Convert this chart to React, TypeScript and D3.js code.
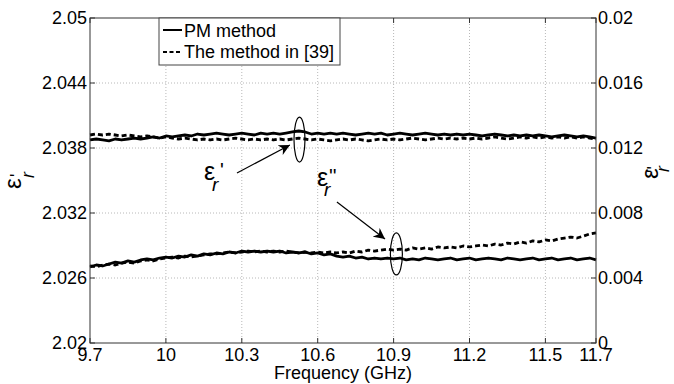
import React from 'react';
import * as d3 from 'd3';

// frequency grid (GHz), 81 samples from 9.7 to 11.7
const freq = d3.range(81).map(i => +(9.7 + i * 0.025).toFixed(3));

// real permittivity, PM method (solid)
const epsRealPM = [
  2.03874, 2.03883, 2.03874, 2.03865, 2.03883, 2.03874, 2.03883, 2.03892, 2.03883,
  2.03892, 2.03902, 2.03892, 2.03911, 2.03902, 2.03911, 2.03920, 2.03911, 2.03929, 2.03920, 2.03929,
  2.03938, 2.03929, 2.03920, 2.03929, 2.03938, 2.03929, 2.03920, 2.03938, 2.03929, 2.03938,
  2.03929, 2.03938, 2.03948, 2.03957, 2.03948, 2.03929, 2.03938, 2.03929, 2.03938, 2.03929,
  2.03938, 2.03929, 2.03920, 2.03929, 2.03938, 2.03929, 2.03938, 2.03920, 2.03929, 2.03938,
  2.03929, 2.03920, 2.03929, 2.03938, 2.03929, 2.03920, 2.03929, 2.03920, 2.03929, 2.03920,
  2.03929, 2.03920, 2.03911, 2.03920, 2.03929, 2.03920, 2.03911, 2.03920, 2.03911, 2.03920,
  2.03911, 2.03920, 2.03911, 2.03902, 2.03911, 2.03920, 2.03911, 2.03902, 2.03911, 2.03902, 2.03892,
];

// real permittivity, method in [39] (dashed)
const epsReal39 = [
  2.03920, 2.03929, 2.03920, 2.03929, 2.03920, 2.03911, 2.03920, 2.03911, 2.03902,
  2.03911, 2.03902, 2.03892, 2.03902, 2.03892, 2.03883, 2.03892, 2.03883, 2.03874, 2.03883, 2.03874,
  2.03883, 2.03874, 2.03883, 2.03892, 2.03883, 2.03874, 2.03883, 2.03874, 2.03883, 2.03874,
  2.03883, 2.03874, 2.03883, 2.03892, 2.03883, 2.03874, 2.03883, 2.03874, 2.03865, 2.03874,
  2.03883, 2.03874, 2.03883, 2.03874, 2.03865, 2.03874, 2.03883, 2.03874, 2.03883, 2.03874,
  2.03883, 2.03892, 2.03883, 2.03874, 2.03883, 2.03892, 2.03883, 2.03892, 2.03883, 2.03892,
  2.03883, 2.03892, 2.03883, 2.03892, 2.03902, 2.03892, 2.03883, 2.03892, 2.03902, 2.03892,
  2.03902, 2.03892, 2.03902, 2.03892, 2.03902, 2.03892, 2.03902, 2.03892, 2.03902, 2.03892, 2.03883,
];

// imaginary permittivity, PM method (solid)
const epsImagPM = [
  0.00468, 0.00480, 0.00474, 0.00486, 0.00498, 0.00492, 0.00505, 0.00498, 0.00511,
  0.00517, 0.00511, 0.00523, 0.00529, 0.00523, 0.00535, 0.00529, 0.00542, 0.00535, 0.00548, 0.00542,
  0.00554, 0.00548, 0.00560, 0.00554, 0.00566, 0.00560, 0.00566, 0.00560, 0.00566, 0.00560,
  0.00566, 0.00554, 0.00560, 0.00554, 0.00560, 0.00548, 0.00554, 0.00542, 0.00548, 0.00535,
  0.00529, 0.00535, 0.00523, 0.00529, 0.00517, 0.00523, 0.00517, 0.00523, 0.00517, 0.00523,
  0.00511, 0.00517, 0.00511, 0.00523, 0.00517, 0.00511, 0.00517, 0.00523, 0.00511, 0.00517,
  0.00523, 0.00511, 0.00517, 0.00523, 0.00517, 0.00511, 0.00523, 0.00517, 0.00511, 0.00517,
  0.00523, 0.00511, 0.00517, 0.00523, 0.00511, 0.00517, 0.00523, 0.00511, 0.00517, 0.00523, 0.00511,
];

// imaginary permittivity, method in [39] (dashed)
const epsImag39 = [
  0.00474, 0.00468, 0.00480, 0.00486, 0.00480, 0.00492, 0.00498, 0.00492, 0.00505,
  0.00511, 0.00505, 0.00517, 0.00523, 0.00529, 0.00523, 0.00535, 0.00529, 0.00535, 0.00542, 0.00548,
  0.00548, 0.00554, 0.00560, 0.00554, 0.00560, 0.00566, 0.00560, 0.00566, 0.00560, 0.00566,
  0.00560, 0.00566, 0.00560, 0.00554, 0.00560, 0.00554, 0.00560, 0.00554, 0.00560, 0.00554,
  0.00560, 0.00554, 0.00566, 0.00560, 0.00572, 0.00566, 0.00572, 0.00578, 0.00572, 0.00578,
  0.00572, 0.00585, 0.00578, 0.00585, 0.00578, 0.00591, 0.00585, 0.00591, 0.00585, 0.00597,
  0.00591, 0.00597, 0.00603, 0.00597, 0.00609, 0.00603, 0.00615, 0.00609, 0.00622, 0.00615,
  0.00628, 0.00622, 0.00634, 0.00628, 0.00640, 0.00646, 0.00652, 0.00646, 0.00658, 0.00671, 0.00677,
];

const xTicks = [9.7, 10, 10.3, 10.6, 10.9, 11.2, 11.5, 11.7];
const xTickLabels = ['9.7', '10', '10.3', '10.6', '10.9', '11.2', '11.5', '11.7'];
const leftTicks = [2.02, 2.026, 2.032, 2.038, 2.044, 2.05];
const leftTickLabels = ['2.02', '2.026', '2.032', '2.038', '2.044', '2.05'];
const rightTicks = [0, 0.004, 0.008, 0.012, 0.016, 0.02];
const rightTickLabels = ['0', '0.004', '0.008', '0.012', '0.016', '0.02'];
const legendLabels = ['PM method', 'The method in [39]'];

const W = 674;
const H = 384;
const margin = { top: 18, right: 78, bottom: 41, left: 90 };
const FONT = '"Liberation Sans", Arial, sans-serif';

const App = () => {
  const x = d3.scaleLinear().domain([9.7, 11.7]).range([margin.left, W - margin.right]);
  const yL = d3.scaleLinear().domain([2.02, 2.05]).range([H - margin.bottom, margin.top]);
  const yR = d3.scaleLinear().domain([0, 0.02]).range([H - margin.bottom, margin.top]);

  const lineL = d3.line<number>().x((_, i) => x(freq[i])).y(d => yL(d));
  const lineR = d3.line<number>().x((_, i) => x(freq[i])).y(d => yR(d));

  const x0 = x.range()[0], x1 = x.range()[1];
  const y0 = yL.range()[0], y1 = yL.range()[1];

  const curve = { fill: 'none', stroke: '#000', strokeWidth: 2.8, strokeLinejoin: 'round' as const };

  // annotation arrows (tail -> tip)
  const a1 = { fx0: 10.281, v0: 2.03569, fx1: 10.49, v1: 2.03828 };
  const a2 = { fx0: 10.676, v0: 0.00868, fx1: 10.866, v1: 0.0064 };

  return (
    <svg width={W} height={H} style={{ position: 'absolute', left: 0, top: 0, background: '#fff' }}
      fontFamily={FONT}>
      <defs>
        <marker id="arr" viewBox="0 0 10 10" refX="10" refY="5" markerWidth="11" markerHeight="11"
          markerUnits="userSpaceOnUse" orient="auto">
          <path d="M0,0 L10,5 L0,10 L3,5 z" fill="#000" />
        </marker>
      </defs>
      <rect x={0} y={0} width={W} height={H} fill="#fff" />

      {/* grid */}
      {xTicks.slice(1, -1).map(t => (
        <line key={'gx' + t} x1={x(t)} x2={x(t)} y1={y0} y2={y1} stroke="#b8b8b8" strokeWidth={1} strokeDasharray="1,2" />
      ))}
      {leftTicks.slice(1, -1).map(t => (
        <line key={'gy' + t} x1={x0} x2={x1} y1={yL(t)} y2={yL(t)} stroke="#b8b8b8" strokeWidth={1} strokeDasharray="1,2" />
      ))}

      {/* curves */}
      <path d={lineL(epsRealPM) || ''} {...curve} />
      <path d={lineL(epsReal39) || ''} {...curve} strokeDasharray="5,3" />
      <path d={lineR(epsImagPM) || ''} {...curve} />
      <path d={lineR(epsImag39) || ''} {...curve} strokeDasharray="5,3" />

      {/* axes box and ticks */}
      <rect x={x0} y={y1} width={x1 - x0} height={y0 - y1} fill="none" stroke="#333" strokeWidth={1} />
      {xTicks.map((t, i) => (
        <g key={'tx' + t}>
          <line x1={x(t)} x2={x(t)} y1={y0} y2={y0 - 5} stroke="#333" />
          <line x1={x(t)} x2={x(t)} y1={y1} y2={y1 + 5} stroke="#333" />
          <text x={x(t)} y={y0 + 18} textAnchor="middle" fontSize={18}>{xTickLabels[i]}</text>
        </g>
      ))}
      {leftTicks.map((t, i) => (
        <g key={'tl' + t}>
          <line x1={x0} x2={x0 + 5} y1={yL(t)} y2={yL(t)} stroke="#333" />
          <text x={x0 - 3} y={yL(t)} dy="0.36em" textAnchor="end" fontSize={18}>{leftTickLabels[i]}</text>
        </g>
      ))}
      {rightTicks.map((t, i) => (
        <g key={'tr' + t}>
          <line x1={x1} x2={x1 - 5} y1={yR(t)} y2={yR(t)} stroke="#333" />
          <text x={x1 + 2} y={yR(t)} dy="0.36em" textAnchor="start" fontSize={18}>{rightTickLabels[i]}</text>
        </g>
      ))}

      {/* axis titles */}
      <text x={(x0 + x1) / 2} y={379} textAnchor="middle" fontSize={18}>Frequency (GHz)</text>
      <g transform="translate(21,189) rotate(-90)">
        <text x={0} y={0} fontSize={24}>ε</text>
        <text x={12} y={2} fontSize={18}>'</text>
        <text x={11} y={13} fontSize={18} fontStyle="italic">r</text>
      </g>
      <g transform="translate(658,179) rotate(-90)">
        <text x={0} y={0} fontSize={24}>ε</text>
        <text x={6} y={2} fontSize={18}>''</text>
        <text x={7} y={11} fontSize={18} fontStyle="italic">r</text>
      </g>

      {/* legend */}
      <rect x={159} y={y1} width={181} height={47} fill="#fff" stroke="#444" strokeWidth={1} />
      <line x1={163} x2={182} y1={30} y2={30} stroke="#000" strokeWidth={2} />
      <line x1={163} x2={182} y1={52} y2={52} stroke="#000" strokeWidth={2} strokeDasharray="4,2.5" />
      <text x={184} y={37} fontSize={18}>{legendLabels[0]}</text>
      <text x={184} y={58} fontSize={18}>{legendLabels[1]}</text>

      {/* annotations */}
      <ellipse cx={x(10.528)} cy={yL(2.03878)} rx={5.5} ry={22.5} fill="none" stroke="#000" strokeWidth={1.2} />
      <ellipse cx={x(10.911)} cy={yR(0.00548)} rx={6} ry={21} fill="none" stroke="#000" strokeWidth={1.2} />
      <line x1={x(a1.fx0)} y1={yL(a1.v0)} x2={x(a1.fx1)} y2={yL(a1.v1)} stroke="#000" strokeWidth={1.2} markerEnd="url(#arr)" />
      <line x1={x(a2.fx0)} y1={yR(a2.v0)} x2={x(a2.fx1)} y2={yR(a2.v1)} stroke="#000" strokeWidth={1.2} markerEnd="url(#arr)" />

      <text x={204} y={180} fontSize={25}>ε</text>
      <text x={220} y={177} fontSize={20}>'</text>
      <text x={212} y={191} fontSize={19} fontStyle="italic">r</text>

      <text x={317} y={186} fontSize={25}>ε</text>
      <text x={329} y={183} fontSize={20}>''</text>
      <text x={324} y={196} fontSize={19} fontStyle="italic">r</text>
    </svg>
  );
};

export default App;
